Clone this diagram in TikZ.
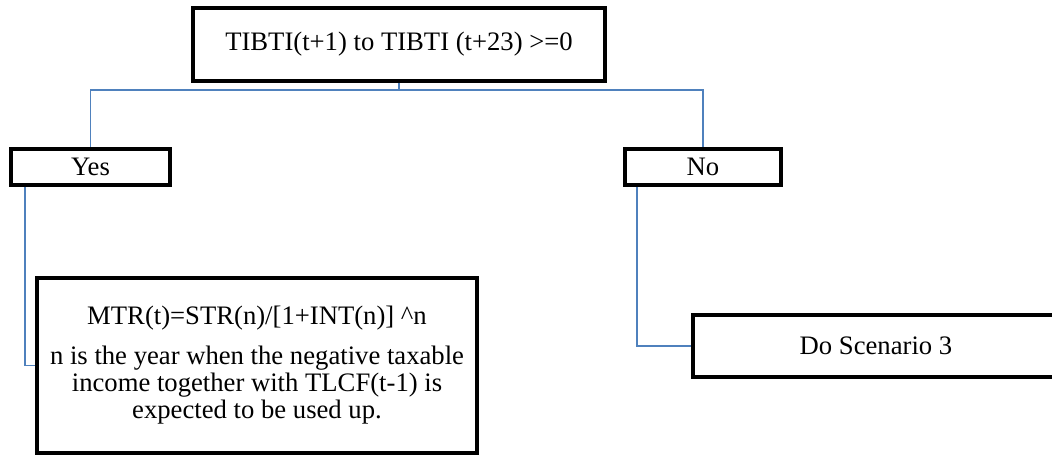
\documentclass[tikz,border=0pt]{standalone}
\usepackage{fontspec}
\setmainfont{Liberation Serif}
\usepackage{tikz}

\definecolor{linkblue}{RGB}{79,129,189}

\tikzset{
  box/.style={draw=black, line width=2.8pt, fill=white, inner sep=0pt,
              font=\fontsize{20}{20.25}\selectfont, align=center},
  link/.style={draw=linkblue, line width=1.25pt}
}

\begin{document}
\begin{tikzpicture}[x=0.75pt,y=-0.75pt]
        \useasboundingbox (0,0) rectangle (1052,455);

        \node[box, minimum width=309pt, minimum height=54.75pt]   (top)  at (399,44.5)   {TIBTI(t+1) to TIBTI (t+23) >=0};
        \node[box, minimum width=119.25pt, minimum height=27pt]   (yes)  at (90.5,167)   {Yes};
        \node[box, minimum width=117pt, minimum height=27pt]      (no)   at (703,167)    {No};
        \node[box, minimum width=330pt, minimum height=131.25pt]  (mtr)  at (257,365.5)
            {MTR(t)=STR(n)/[1+INT(n)] \textasciicircum n\\[9.75pt]
             n is the year when the negative taxable\\
             income together with TLCF(t-1) is\\
             expected to be used up.};
        \node[box, minimum width=274.5pt, minimum height=46.5pt]  (scen) at (876,346)    {Do Scenario 3};

        \coordinate (split) at (399,90);

        \path[link]   (top.south) -- (split)
        (split) -| (yes.north)
        (split) -| (no.north)
        ([xshift=12pt]yes.south west) |- (mtr.west)
        ([xshift=10.5pt]no.south west) |- (scen.west)
        ;
    \end{tikzpicture}
\end{document}
